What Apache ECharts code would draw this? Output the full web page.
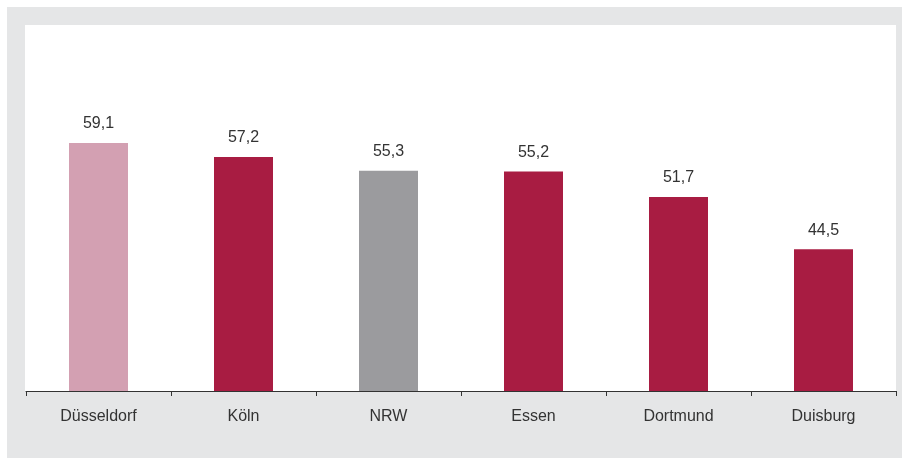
<!DOCTYPE html>
<html>
<head>
<meta charset="utf-8">
<script src="https://cdn.jsdelivr.net/npm/echarts@6/dist/echarts.min.js"></script>
<style>
  html, body { margin: 0; padding: 0; background: #fff; }
  #chart { width: 902px; height: 458px; }
</style>
</head>
<body>
<div id="chart"></div>
<script>
// Werte
const cities = ['Düsseldorf', 'Köln', 'NRW', 'Essen', 'Dortmund', 'Duisburg'];
const values = [59.1, 57.2, 55.3, 55.2, 51.7, 44.5];
const barColors = ['#d3a0b2', '#a81c42', '#9b9b9e', '#a81c42', '#a81c42', '#a81c42'];

const chart = echarts.init(document.getElementById('chart'));

chart.setOption({
  backgroundColor: '#fff',
  animation: false,
  textStyle: { fontFamily: 'Liberation Sans' },
  graphic: [
    {
      type: 'rect', z: -10, silent: true,
      shape: { x: 7, y: 7, width: 895, height: 451 },
      style: { fill: '#e5e6e7' }
    },
    {
      type: 'rect', z: -9, silent: true,
      shape: { x: 25, y: 25, width: 871, height: 366 },
      style: { fill: '#fff' }
    }
  ],
  grid: { left: 26, right: 6, top: 27.5, bottom: 67 },
  xAxis: {
    type: 'category',
    data: cities,
    axisLine: { lineStyle: { color: '#333', width: 1 } },
    axisTick: { show: true, length: 5, lineStyle: { color: '#333' } },
    axisLabel: { color: '#333', fontSize: 16, margin: 18 }
  },
  yAxis: {
    type: 'value',
    min: 25,
    max: 75,
    show: false,
    splitLine: { show: false }
  },
  series: [{
    type: 'bar',
    barWidth: 59,
    data: values.map((v, i) => ({ value: v, itemStyle: { color: barColors[i] } })),
    label: {
      show: true,
      position: 'top',
      distance: 11,
      color: '#333',
      fontSize: 16,
      formatter: p => String(p.value).replace('.', ',')
    }
  }]
});
</script>
</body>
</html>
